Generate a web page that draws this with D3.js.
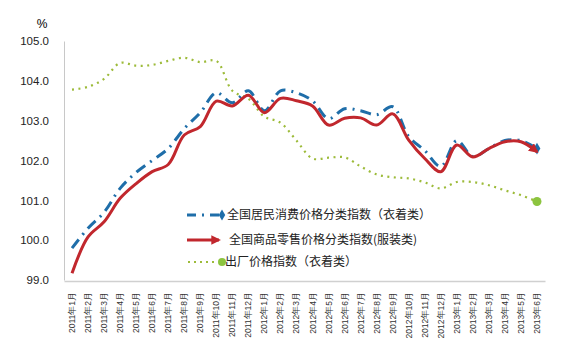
<!DOCTYPE html>
<html><head><meta charset="utf-8">
<script src="https://cdn.jsdelivr.net/npm/d3@7"></script>
<style>body{margin:0;background:#fff;}svg{display:block;font-family:"Noto Sans CJK SC","DejaVu Sans",sans-serif;}</style>
</head><body><svg id="c" width="572" height="357"></svg>
<script>
const months = ["2011年1月","2011年2月","2011年3月","2011年4月","2011年5月","2011年6月","2011年7月","2011年8月","2011年9月","2011年10月","2011年11月","2011年12月",
"2012年1月","2012年2月","2012年3月","2012年4月","2012年5月","2012年6月","2012年7月","2012年8月","2012年9月","2012年10月","2012年11月","2012年12月",
"2013年1月","2013年2月","2013年3月","2013年4月","2013年5月","2013年6月"];
const cpiClothing = [99.8,100.3,100.7,101.3,101.7,102.0,102.3,102.8,103.2,103.7,103.45,103.75,103.25,103.75,103.7,103.5,103.05,103.3,103.25,103.15,103.35,102.6,102.25,101.85,102.5,102.1,102.3,102.5,102.5,102.3];
const retailClothing = [99.17,100.08,100.46,101.05,101.42,101.72,101.9,102.64,102.85,103.49,103.37,103.64,103.2,103.56,103.5,103.37,102.89,103.06,103.07,102.89,103.17,102.51,102.05,101.72,102.39,102.09,102.3,102.47,102.47,102.22];
const ppiClothing = [103.78,103.85,104.05,104.45,104.38,104.4,104.5,104.58,104.47,104.5,103.75,103.55,103.1,102.95,102.5,102.05,102.07,102.08,101.85,101.65,101.58,101.55,101.45,101.3,101.46,101.46,101.38,101.25,101.13,100.97];
const yTicks = [99,100,101,102,103,104,105];
const seriesNames = ["全国居民消费价格分类指数（衣着类）","全国商品零售价格分类指数(服装类)","出厂价格指数（衣着类）"];

const svg = d3.select("#c");
const x = d3.scaleBand().domain(months).range([64,545]);
const cx = d => x(d) + x.bandwidth()/2;
const y = d3.scaleLinear().domain([99,105]).range([280,41]);

const blue = "#1f6ea9", red = "#c1272d", green = "#9dbb3a", greenDot = "#8cc43f";

const defs = svg.append("defs");
defs.append("marker").attr("id","arr").attr("viewBox","0 0 10 10").attr("refX",8).attr("refY",5)
  .attr("markerWidth",3.2).attr("markerHeight",3.2).attr("orient","auto").attr("markerUnits","strokeWidth")
  .append("path").attr("d","M0,0L10,5L0,10z").attr("fill",red);

// axes
const ya = svg.append("g").attr("transform","translate(64,0)")
  .call(d3.axisLeft(y).tickValues(yTicks).tickFormat(d3.format(".1f")).tickSize(0).tickPadding(15));
ya.select(".domain").attr("stroke","#c8c8c8");
ya.selectAll("text").attr("font-size",11.5).attr("fill","#222").attr("font-family","Liberation Sans, Arial, sans-serif");
svg.append("text").attr("x",42).attr("y",28).attr("text-anchor","middle").attr("font-size",12)
  .attr("font-family","Liberation Sans, Arial, sans-serif").text("%");

const xa = svg.append("g").attr("transform","translate(0,281)")
  .call(d3.axisBottom(x).tickSize(0).tickPadding(0));
xa.select(".domain").attr("stroke","#d0d0d0").attr("stroke-width",1.5);
xa.selectAll("text").attr("font-size",8.5).attr("fill","#333")
  .attr("text-anchor","end").attr("transform","rotate(-90)").attr("x",-11).attr("y",0).attr("dy","0.35em");

const line = d3.line().x((d,i)=>cx(months[i])).y(d=>y(d)).curve(d3.curveCatmullRom.alpha(0.5));

svg.append("path").datum(ppiClothing).attr("d",line).attr("fill","none").attr("stroke",green)
  .attr("stroke-width",2.2).attr("stroke-dasharray","2 4.5").attr("stroke-linecap","butt");
svg.append("circle").attr("cx",cx(months[29])).attr("cy",y(ppiClothing[29])).attr("r",4.5).attr("fill",greenDot);

svg.append("path").datum(cpiClothing).attr("d",line).attr("fill","none").attr("stroke",blue)
  .attr("stroke-width",3).attr("stroke-dasharray","11 6 2 6");
svg.append("path").attr("transform",`translate(${cx(months[29])},${y(cpiClothing[29])})`)
  .attr("d",d3.symbol(d3.symbolDiamond,40)()).attr("fill",blue);

svg.append("path").datum(retailClothing).attr("d",line).attr("fill","none").attr("stroke",red)
  .attr("stroke-width",3).attr("marker-end","url(#arr)");

// legend
const lg = svg.append("g");
const rows = [215,240,262];
lg.append("line").attr("x1",187).attr("x2",220).attr("y1",rows[0]).attr("y2",rows[0]).attr("stroke",blue)
  .attr("stroke-width",3).attr("stroke-dasharray","9 6 2 6");
lg.append("path").attr("transform",`translate(222,${rows[0]})`).attr("d",d3.symbol(d3.symbolDiamond,36)()).attr("fill",blue);
lg.append("line").attr("x1",187).attr("x2",219).attr("y1",rows[1]).attr("y2",rows[1]).attr("stroke",red)
  .attr("stroke-width",3).attr("marker-end","url(#arr)");
lg.append("line").attr("x1",188).attr("x2",218).attr("y1",rows[2]).attr("y2",rows[2]).attr("stroke",green)
  .attr("stroke-width",2).attr("stroke-dasharray","2 4");
lg.append("circle").attr("cx",222).attr("cy",rows[2]).attr("r",4).attr("fill",greenDot);
const tx = [227,229,225];
seriesNames.forEach((n,i)=>{
  lg.append("text").attr("x",tx[i]).attr("y",rows[i]).attr("dy","0.36em").attr("font-size",12).attr("fill","#222").text(n);
});
</script></body></html>
